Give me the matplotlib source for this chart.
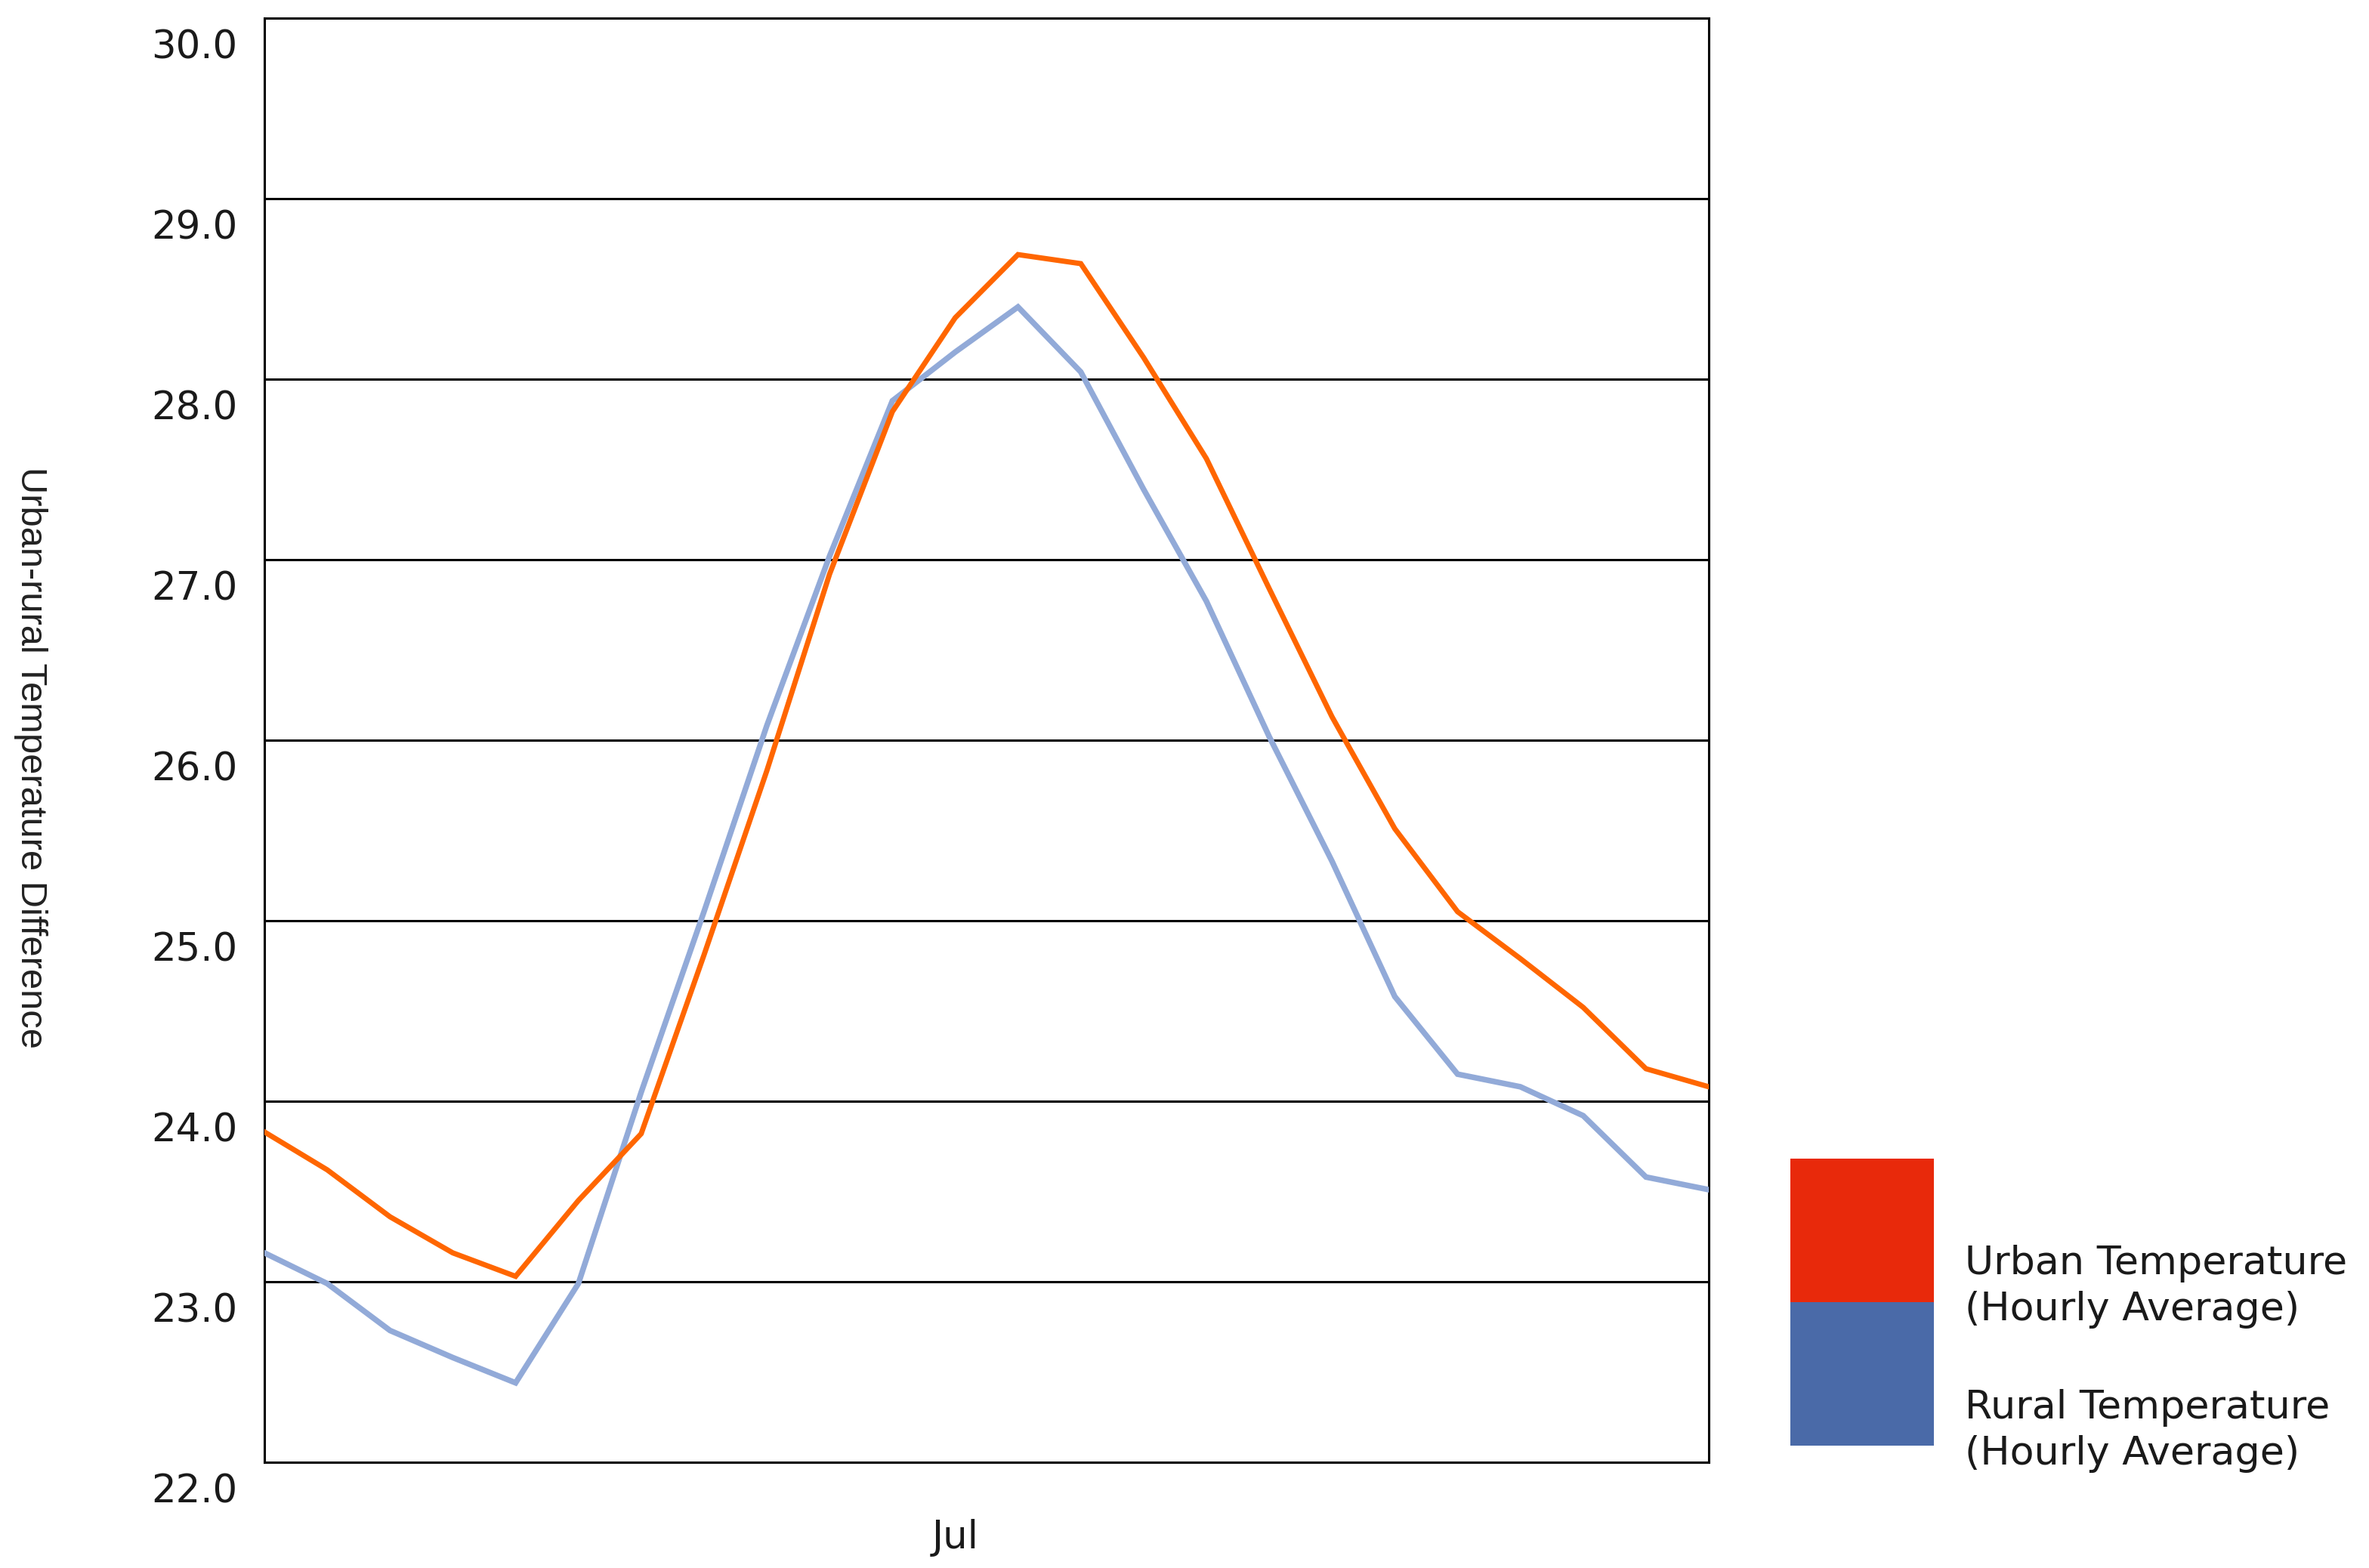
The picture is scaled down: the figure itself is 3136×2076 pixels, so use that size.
import matplotlib
matplotlib.use("Agg")
import matplotlib.pyplot as plt
from matplotlib.patches import Rectangle
from matplotlib.transforms import ScaledTranslation

# hourly averages, hour 0..23
hours = list(range(24))
urban_temp = [23.83, 23.62, 23.36, 23.16, 23.03, 23.45, 23.82, 24.81, 25.83, 26.92,
              27.82, 28.34, 28.69, 28.64, 28.12, 27.56, 26.84, 26.13, 25.51, 25.05,
              24.79, 24.52, 24.18, 24.08]
rural_temp = [23.16, 22.99, 22.73, 22.58, 22.44, 22.99, 24.05, 25.05, 26.08, 27.02,
              27.88, 28.15, 28.40, 28.04, 27.39, 26.77, 26.02, 25.33, 24.58, 24.15,
              24.08, 23.92, 23.58, 23.51]

y_ticks = [22, 23, 24, 25, 26, 27, 28, 29, 30]
x_tick_pos = [11]
x_tick_labels = ['Jul']
legend_labels = [['Urban Temperature', '(Hourly Average)'],
                 ['Rural Temperature', '(Hourly Average)']]
legend_colors = ['#E8290B', '#4A6AA8']

W, H = 3136, 2076
fig = plt.figure(figsize=(W / 200, H / 200), dpi=200)
ax = fig.add_axes([350 / W, 1 - 1936 / H, (2262 - 350) / W, (1936 - 24) / H])

ax.plot(hours, rural_temp, color='#92AAD8', linewidth=2.7, solid_joinstyle='miter', zorder=3)
ax.plot(hours, urban_temp, color='#FF6600', linewidth=2.5, solid_joinstyle='miter', zorder=4)

ax.set_xlim(0, 23)
ax.set_ylim(22, 30)

# horizontal grid lines (only interior ones)
for v in y_ticks[1:-1]:
    ax.axhline(v, color='black', linewidth=1.1, zorder=2)

for s in ax.spines.values():
    s.set_color('black')
    s.set_linewidth(1.1)

# y tick labels sit a bit below their grid line in the original
ax.set_yticks([])
off = ScaledTranslation(0, -14.3 / 72, fig.dpi_scale_trans)
for v in y_ticks:
    ax.text(-0.0185, v, f'{v:.1f}', transform=ax.get_yaxis_transform() + off,
            ha='right', va='center', fontsize=18.5, family='DejaVu Sans', color='#1a1a1a')

ax.set_xticks(x_tick_pos)
ax.set_xticklabels(x_tick_labels, fontsize=18.5, family='DejaVu Sans', color='#1a1a1a')
ax.tick_params(axis='x', length=0, pad=27)

fig.text(40 / W, 1 - 1003 / H, 'Urban-rural Temperature Difference', rotation=-90,
         ha='center', va='center', fontsize=17.6,
         family=['Liberation Sans Narrow', 'Liberation Sans'], color='#222222')

# legend: two stacked colour boxes with labels
box_x, box_w = 2370, 190
box_tops = [1534, 1724]
box_h = 190
baselines = [[1687, 1748], [1878, 1939]]
for i in range(2):
    fig.add_artist(Rectangle((box_x / W, 1 - (box_tops[i] + box_h) / H), box_w / W, box_h / H,
                             transform=fig.transFigure, facecolor=legend_colors[i],
                             edgecolor='none'))
    for j, line in enumerate(legend_labels[i]):
        fig.text(2601 / W, 1 - baselines[i][j] / H, line, ha='left', va='baseline',
                 fontsize=18.8, family='DejaVu Sans', color='#1a1a1a')

fig.savefig('out.png', dpi=200, facecolor='white')
